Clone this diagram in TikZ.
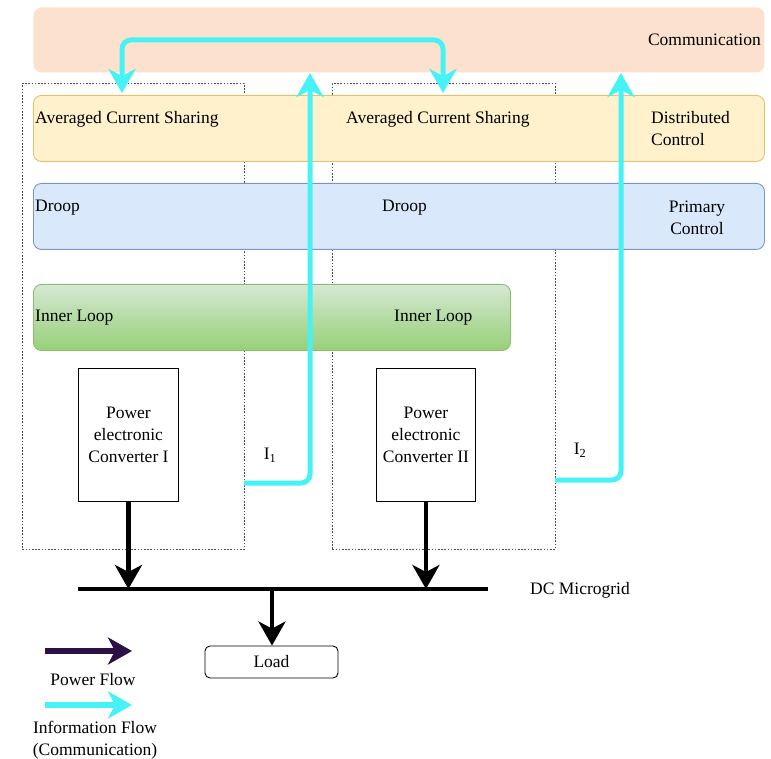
\documentclass[tikz,border=0pt]{standalone}
\usepackage{fontspec}
\setmainfont{Liberation Serif}
\usetikzlibrary{arrows.meta}

\definecolor{commfill}{RGB}{252,226,206}
\definecolor{distfill}{RGB}{255,241,204}
\definecolor{distdraw}{RGB}{222,196,110}
\definecolor{primfill}{RGB}{218,232,252}
\definecolor{primdraw}{RGB}{120,150,200}
\definecolor{innertop}{RGB}{213,232,212}
\definecolor{innerbot}{RGB}{151,208,119}
\definecolor{innerdraw}{RGB}{140,190,110}
\definecolor{infocol}{RGB}{70,242,244}
\definecolor{powerleg}{RGB}{45,16,70}

\tikzset{
  band/.style={rounded corners=8pt, inner sep=0pt, anchor=north west, line width=0.9pt},
  group/.style={draw=black!70, dash pattern=on 1.6pt off 1.6pt, line width=0.7pt,
                inner sep=0pt, anchor=north west},
  convbox/.style={draw=black, line width=0.9pt, fill=white, inner sep=0pt,
                  anchor=north west, minimum width=100pt, minimum height=133pt},
  label/.style={inner sep=0pt},
  multi/.style={inner sep=0pt, align=center},
  info/.style={draw=infocol, line width=5pt, rounded corners=9pt,
               -{Stealth[length=24pt,width=27pt,inset=7pt]}},
  infoboth/.style={draw=infocol, line width=5pt, rounded corners=9pt,
               {Stealth[length=24pt,width=27pt,inset=7pt]}-{Stealth[length=24pt,width=27pt,inset=7pt]}},
  power/.style={draw=black, line width=4.5pt,
               -{Stealth[length=24pt,width=27pt,inset=7pt]}},
}

\begin{document}
\begin{tikzpicture}[x=1pt, y=-1pt, font=\fontsize{17.5}{22}\selectfont]
\useasboundingbox (0,0) rectangle (771,759);

% communication layer
\node[band, fill=commfill, minimum width=731pt, minimum height=65pt] (comm) at (33,7) {};
\node[label, anchor=east] (commtxt) at (761,40) {Communication};

% dashed outlines of the two units
\node[group, minimum width=222pt, minimum height=466pt] (grpI) at (22,83) {};
\node[group, minimum width=223pt, minimum height=466pt] (grpII) at (332,83) {};

% distributed control layer
\node[band, fill=distfill, draw=distdraw, minimum width=731pt, minimum height=66pt] (dist) at (33,95) {};
\node[label, anchor=west] (acs1) at (35,119) {Averaged Current Sharing};
\node[label, anchor=west] (acs2) at (346,119) {Averaged Current Sharing};
\node[multi, anchor=west, align=left] (disttxt) at (651,129) {Distributed\\Control};

% primary control layer
\node[band, fill=primfill, draw=primdraw, minimum width=731pt, minimum height=66pt] (prim) at (33,183) {};
\node[label, anchor=west] (droop1) at (35,208) {Droop};
\node[label, anchor=west] (droop2) at (382,208) {Droop};
\node[multi] (primtxt) at (697,218) {Primary\\Control};

% inner loop layer
\node[band, top color=innertop, bottom color=innerbot, draw=innerdraw,
      minimum width=477pt, minimum height=66pt] (inner) at (33,284) {};
\node[label, anchor=west] (il1) at (35,318) {Inner Loop};
\node[label, anchor=west] (il2) at (394,318) {Inner Loop};

% converters
\node[convbox] (conv1) at (78,368) {};
\node[multi] at (conv1.center) {Power\\electronic\\Converter I};
\node[convbox, minimum width=99pt] (conv2) at (376,368) {};
\node[multi] at (conv2.center) {Power\\electronic\\Converter II};

% DC bus and load
\coordinate (busL) at (78,589);
\coordinate (busR) at (488,589);
\coordinate (busT) at (272,589);
\draw[line width=4.5pt] (busL) -- (busR);
\node[label, anchor=west] (dctxt) at (530,590) {DC Microgrid};
\node[draw=black, line width=0.9pt, rounded corners=5pt, inner sep=0pt,
      minimum width=133pt, minimum height=32pt] (load) at (271.5,662) {Load};

% power flow
\draw[power] (conv1.south) -- (conv1.south |- busL);
\draw[power] (conv2.south) -- (conv2.south |- busL);
\draw[power] (busT) -- (load.north -| busT);

% information flow
\coordinate (shareL) at (122,93);
\coordinate (shareLt) at (122,40);
\coordinate (shareRt) at (443,40);
\coordinate (shareR) at (443,93);
\draw[infoboth] (shareL) -- (shareLt) -- (shareRt) -- (shareR);

\coordinate (i1s) at (244,483);
\coordinate (i1c) at (310,483);
\coordinate (i1e) at (310,73);
\draw[info] (i1s) -- (i1c) -- (i1e);
\node[label] (i1) at (270,455) {I\textsubscript{1}};

\coordinate (i2s) at (555,480);
\coordinate (i2c) at (621,480);
\coordinate (i2e) at (621,73);
\draw[info] (i2s) -- (i2c) -- (i2e);
\node[label] (i2) at (580,450) {I\textsubscript{2}};

% legend
\coordinate (lp1) at (45,651);
\coordinate (lp2) at (132,651);
\draw[power, draw=powerleg, fill=powerleg, line width=5.5pt] (lp1) -- (lp2);
\node[label] (lptxt) at (93,680) {Power Flow};
\coordinate (li1) at (45,705);
\coordinate (li2) at (132,705);
\draw[draw=infocol, line width=5.5pt, -{Stealth[length=24pt,width=27pt,inset=7pt]}] (li1) -- (li2);
\node[multi] (litxt) at (95,740) {Information Flow\\(Communication)};
\end{tikzpicture}
\end{document}
